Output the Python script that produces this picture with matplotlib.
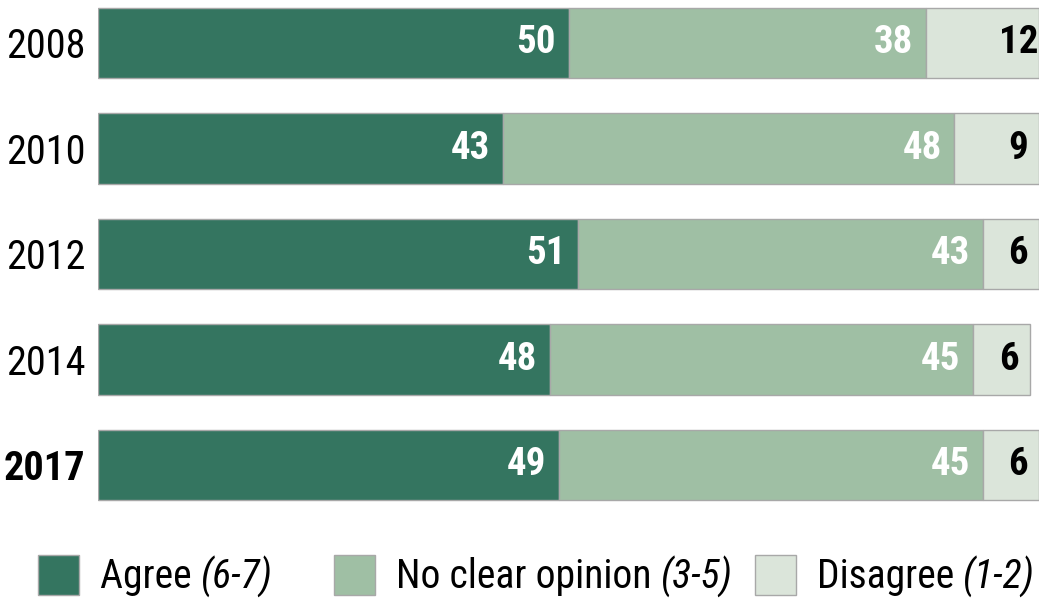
import matplotlib
matplotlib.use("Agg")
import matplotlib.pyplot as plt
from matplotlib.patches import Rectangle

plt.rcParams['font.family'] = ['Roboto Condensed', 'Liberation Sans', 'DejaVu Sans']

years = ["2008", "2010", "2012", "2014", "2017"]
agree = [50, 43, 51, 48, 49]
no_opinion = [38, 48, 43, 45, 45]
disagree = [12, 9, 6, 6, 6]

c_agree = "#347560"
c_mid = "#9fbfa4"
c_light = "#dbe5da"
edge = "#a8a8a8"

W, H = 1047, 601
fig = plt.figure(figsize=(W / 100, H / 100), dpi=100)

# axes placed in pixel terms: x 0 -> 98px, 100 -> 1039px
ax_left = 98 / W
ax_width = (1039 - 98) / W
ax_bottom = (H - 523) / H
ax_height = 522.2 / H
ax = fig.add_axes([ax_left, ax_bottom, ax_width, ax_height])
ax.set_xlim(0, 100)
ax.set_ylim(4.55, -0.4)

ypos = list(range(len(years)))
h = 0.665
ax.barh(ypos, agree, height=h, color=c_agree, edgecolor=edge, linewidth=1)
ax.barh(ypos, no_opinion, left=agree, height=h, color=c_mid, edgecolor=edge, linewidth=1)
left2 = [a + b for a, b in zip(agree, no_opinion)]
ax.barh(ypos, disagree, left=left2, height=h, color=c_light, edgecolor=edge, linewidth=1)

for i in ypos:
    ax.text(agree[i] - 1.35, i, str(agree[i]), ha="right", va="center",
            color="white", fontsize=28, fontweight="bold")
    ax.text(left2[i] - 1.35, i, str(no_opinion[i]), ha="right", va="center",
            color="white", fontsize=28, fontweight="bold")
    ax.text(left2[i] + disagree[i] - 2.2, i, str(disagree[i]), ha="center", va="center",
            color="black", fontsize=28, fontweight="bold")

ax.set_yticks(ypos)
ax.set_yticklabels(years, fontsize=29)
ax.get_yticklabels()[-1].set_fontweight("bold")
ax.tick_params(axis="y", length=0, pad=9)
ax.set_xticks([])
for s in ax.spines.values():
    s.set_visible(False)

# legend drawn by hand
labels = [("Agree ", "(6-7)", c_agree, 38),
          ("No clear opinion ", "(3-5)", c_mid, 334),
          ("Disagree ", "(1-2)", c_light, 755)]
for main, sub, col, x0 in labels:
    fig.add_artist(Rectangle((x0 / W, (H - 595) / H), 41 / W, 40 / H,
                             transform=fig.transFigure, facecolor=col,
                             edgecolor=edge, linewidth=1))
    t = fig.text((x0 + 62) / W, (H - 577) / H, main, fontsize=28.5,
                 va="center", ha="left")
    fig.canvas.draw()
    bb = t.get_window_extent()
    fig.text(bb.x1 / W, (H - 577) / H, sub, fontsize=28.5, style="italic",
             va="center", ha="left")

fig.savefig("out.png", dpi=100)
